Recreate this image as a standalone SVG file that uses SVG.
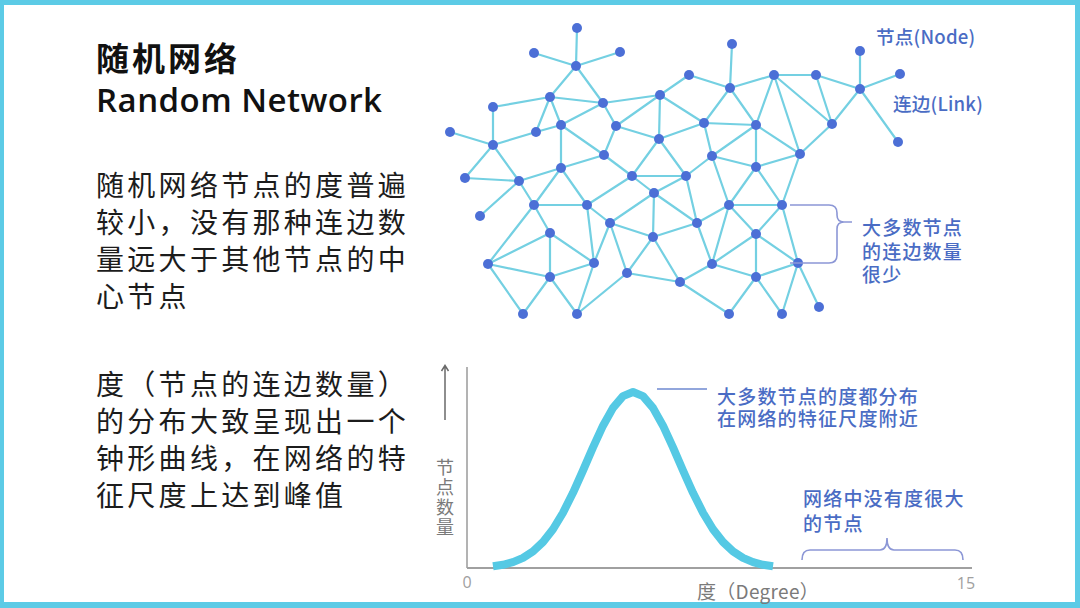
<svg xmlns="http://www.w3.org/2000/svg" width="1080" height="608" viewBox="0 0 1080 608">
<style>
.e{stroke:#74d0e2;stroke-width:2.2;stroke-linecap:round}
.n{fill:#4c6fd6}
.cjk{font-family:"Noto Sans CJK SC","Noto Sans",sans-serif}
.body{font-size:28px;fill:#1c1c1c;letter-spacing:3.3px}
.blue{font-size:19px;fill:#4a6cc4;letter-spacing:1.2px;font-weight:500}
.gray{fill:#7a7a7a}
.brace{fill:none;stroke:#8c97d6;stroke-width:1.6}
</style>
<rect width="1080" height="608" fill="#ffffff"/>
<path d="M0,0H1080V608H0Z M4,5V602H1075V5Z" fill="#5ccbe6" fill-rule="evenodd"/>

<g id="title">
<text x="96" y="71" class="cjk" font-size="33" font-weight="700" letter-spacing="3" fill="#111">随机网络</text>
<text x="96" y="112" font-family="'Open Sans','Noto Sans',sans-serif" font-size="33" font-weight="600" fill="#111" textLength="286" lengthAdjust="spacing">Random Network</text>
</g>

<g id="para1" class="cjk body">
<text x="96" y="196">随机网络节点的度普遍</text>
<text x="96" y="233">较小，没有那种连边数</text>
<text x="96" y="270">量远大于其他节点的中</text>
<text x="96" y="307">心节点</text>
</g>

<g id="para2" class="cjk body">
<text x="96" y="395">度（节点的连边数量）</text>
<text x="96" y="432">的分布大致呈现出一个</text>
<text x="96" y="469">钟形曲线，在网络的特</text>
<text x="96" y="506">征尺度上达到峰值</text>
</g>

<g id="connectors">
<line class="e" x1="577" y1="28" x2="576" y2="66"/>
<line class="e" x1="534" y1="53" x2="576" y2="66"/>
<line class="e" x1="620" y1="52" x2="576" y2="66"/>
<line class="e" x1="576" y1="66" x2="550" y2="97"/>
<line class="e" x1="576" y1="66" x2="603" y2="103"/>
<line class="e" x1="550" y1="97" x2="493" y2="107"/>
<line class="e" x1="550" y1="97" x2="603" y2="103"/>
<line class="e" x1="550" y1="97" x2="536" y2="132"/>
<line class="e" x1="550" y1="97" x2="561" y2="125"/>
<line class="e" x1="603" y1="103" x2="561" y2="125"/>
<line class="e" x1="603" y1="103" x2="616" y2="126"/>
<line class="e" x1="603" y1="103" x2="660" y2="95"/>
<line class="e" x1="660" y1="95" x2="689" y2="75"/>
<line class="e" x1="689" y1="75" x2="730" y2="88"/>
<line class="e" x1="660" y1="95" x2="616" y2="126"/>
<line class="e" x1="660" y1="95" x2="659" y2="139"/>
<line class="e" x1="660" y1="95" x2="704" y2="123"/>
<line class="e" x1="616" y1="126" x2="659" y2="139"/>
<line class="e" x1="616" y1="126" x2="604" y2="155"/>
<line class="e" x1="493" y1="107" x2="493" y2="145"/>
<line class="e" x1="450" y1="132" x2="493" y2="145"/>
<line class="e" x1="536" y1="132" x2="493" y2="145"/>
<line class="e" x1="536" y1="132" x2="561" y2="125"/>
<line class="e" x1="561" y1="125" x2="561" y2="168"/>
<line class="e" x1="561" y1="125" x2="604" y2="155"/>
<line class="e" x1="561" y1="168" x2="604" y2="155"/>
<line class="e" x1="659" y1="139" x2="704" y2="123"/>
<line class="e" x1="704" y1="123" x2="712" y2="156"/>
<line class="e" x1="704" y1="123" x2="730" y2="88"/>
<line class="e" x1="704" y1="123" x2="756" y2="125"/>
<line class="e" x1="732" y1="44" x2="730" y2="88"/>
<line class="e" x1="730" y1="88" x2="774" y2="75"/>
<line class="e" x1="730" y1="88" x2="756" y2="125"/>
<line class="e" x1="774" y1="75" x2="816" y2="75"/>
<line class="e" x1="774" y1="75" x2="756" y2="125"/>
<line class="e" x1="774" y1="75" x2="800" y2="154"/>
<line class="e" x1="774" y1="75" x2="832" y2="124"/>
<line class="e" x1="816" y1="75" x2="832" y2="124"/>
<line class="e" x1="816" y1="75" x2="860" y2="89"/>
<line class="e" x1="860" y1="51" x2="860" y2="89"/>
<line class="e" x1="900" y1="74" x2="860" y2="89"/>
<line class="e" x1="860" y1="89" x2="898" y2="142"/>
<line class="e" x1="860" y1="89" x2="832" y2="124"/>
<line class="e" x1="832" y1="124" x2="800" y2="154"/>
<line class="e" x1="756" y1="125" x2="712" y2="156"/>
<line class="e" x1="756" y1="125" x2="800" y2="154"/>
<line class="e" x1="756" y1="125" x2="756" y2="167"/>
<line class="e" x1="800" y1="154" x2="756" y2="167"/>
<line class="e" x1="712" y1="156" x2="756" y2="167"/>
<line class="e" x1="659" y1="139" x2="632" y2="176"/>
<line class="e" x1="659" y1="139" x2="686" y2="176"/>
<line class="e" x1="604" y1="155" x2="632" y2="176"/>
<line class="e" x1="632" y1="176" x2="686" y2="176"/>
<line class="e" x1="632" y1="176" x2="654" y2="193"/>
<line class="e" x1="686" y1="176" x2="654" y2="193"/>
<line class="e" x1="686" y1="176" x2="712" y2="156"/>
<line class="e" x1="686" y1="176" x2="697" y2="223"/>
<line class="e" x1="493" y1="145" x2="465" y2="178"/>
<line class="e" x1="493" y1="145" x2="519" y2="181"/>
<line class="e" x1="465" y1="178" x2="519" y2="181"/>
<line class="e" x1="519" y1="181" x2="561" y2="168"/>
<line class="e" x1="519" y1="181" x2="480" y2="216"/>
<line class="e" x1="519" y1="181" x2="534" y2="205"/>
<line class="e" x1="561" y1="168" x2="534" y2="205"/>
<line class="e" x1="561" y1="168" x2="587" y2="205"/>
<line class="e" x1="534" y1="205" x2="587" y2="205"/>
<line class="e" x1="534" y1="205" x2="550" y2="233"/>
<line class="e" x1="534" y1="205" x2="488" y2="264"/>
<line class="e" x1="587" y1="205" x2="610" y2="223"/>
<line class="e" x1="587" y1="205" x2="594" y2="263"/>
<line class="e" x1="587" y1="205" x2="632" y2="176"/>
<line class="e" x1="654" y1="193" x2="610" y2="223"/>
<line class="e" x1="654" y1="193" x2="697" y2="223"/>
<line class="e" x1="654" y1="193" x2="653" y2="237"/>
<line class="e" x1="610" y1="223" x2="653" y2="237"/>
<line class="e" x1="610" y1="223" x2="594" y2="263"/>
<line class="e" x1="610" y1="223" x2="627" y2="273"/>
<line class="e" x1="653" y1="237" x2="697" y2="223"/>
<line class="e" x1="653" y1="237" x2="627" y2="273"/>
<line class="e" x1="653" y1="237" x2="680" y2="282"/>
<line class="e" x1="550" y1="233" x2="488" y2="264"/>
<line class="e" x1="550" y1="233" x2="550" y2="277"/>
<line class="e" x1="550" y1="233" x2="594" y2="263"/>
<line class="e" x1="488" y1="264" x2="550" y2="277"/>
<line class="e" x1="488" y1="264" x2="523" y2="314"/>
<line class="e" x1="550" y1="277" x2="523" y2="314"/>
<line class="e" x1="550" y1="277" x2="577" y2="314"/>
<line class="e" x1="550" y1="277" x2="594" y2="263"/>
<line class="e" x1="594" y1="263" x2="577" y2="314"/>
<line class="e" x1="577" y1="314" x2="627" y2="273"/>
<line class="e" x1="627" y1="273" x2="680" y2="282"/>
<line class="e" x1="680" y1="282" x2="712" y2="264"/>
<line class="e" x1="680" y1="282" x2="729" y2="314"/>
<line class="e" x1="697" y1="223" x2="712" y2="264"/>
<line class="e" x1="697" y1="223" x2="729" y2="205"/>
<line class="e" x1="712" y1="156" x2="729" y2="205"/>
<line class="e" x1="756" y1="167" x2="729" y2="205"/>
<line class="e" x1="756" y1="167" x2="782" y2="205"/>
<line class="e" x1="800" y1="154" x2="782" y2="205"/>
<line class="e" x1="729" y1="205" x2="782" y2="205"/>
<line class="e" x1="729" y1="205" x2="756" y2="234"/>
<line class="e" x1="729" y1="205" x2="712" y2="264"/>
<line class="e" x1="782" y1="205" x2="756" y2="234"/>
<line class="e" x1="782" y1="205" x2="798" y2="263"/>
<line class="e" x1="756" y1="234" x2="712" y2="264"/>
<line class="e" x1="756" y1="234" x2="756" y2="277"/>
<line class="e" x1="756" y1="234" x2="798" y2="263"/>
<line class="e" x1="712" y1="264" x2="756" y2="277"/>
<line class="e" x1="756" y1="277" x2="798" y2="263"/>
<line class="e" x1="756" y1="277" x2="729" y2="314"/>
<line class="e" x1="756" y1="277" x2="782" y2="314"/>
<line class="e" x1="798" y1="263" x2="782" y2="314"/>
<line class="e" x1="798" y1="263" x2="819" y2="307"/>
</g>

<g id="nodes" class="n">
<g id="n1"><circle cx="577" cy="28" r="5"/></g>
<g id="n2"><circle cx="534" cy="53" r="5"/></g>
<g id="n3"><circle cx="620" cy="52" r="5"/></g>
<g id="n4"><circle cx="576" cy="66" r="5"/></g>
<g id="n5"><circle cx="689" cy="75" r="5"/></g>
<g id="n6"><circle cx="550" cy="97" r="5"/></g>
<g id="n7"><circle cx="603" cy="103" r="5"/></g>
<g id="n8"><circle cx="660" cy="95" r="5"/></g>
<g id="n9"><circle cx="493" cy="107" r="5"/></g>
<g id="n10"><circle cx="450" cy="132" r="5"/></g>
<g id="n11"><circle cx="536" cy="132" r="5"/></g>
<g id="n12"><circle cx="561" cy="125" r="5"/></g>
<g id="n13"><circle cx="616" cy="126" r="5"/></g>
<g id="n14"><circle cx="659" cy="139" r="5"/></g>
<g id="n15"><circle cx="704" cy="123" r="5"/></g>
<g id="n16"><circle cx="493" cy="145" r="5"/></g>
<g id="n17"><circle cx="604" cy="155" r="5"/></g>
<g id="n18"><circle cx="712" cy="156" r="5"/></g>
<g id="n19"><circle cx="561" cy="168" r="5"/></g>
<g id="n20"><circle cx="732" cy="44" r="5"/></g>
<g id="n21"><circle cx="730" cy="88" r="5"/></g>
<g id="n22"><circle cx="774" cy="75" r="5"/></g>
<g id="n23"><circle cx="816" cy="75" r="5"/></g>
<g id="n24"><circle cx="860" cy="51" r="5"/></g>
<g id="n25"><circle cx="900" cy="74" r="5"/></g>
<g id="n26"><circle cx="860" cy="89" r="5"/></g>
<g id="n27"><circle cx="898" cy="142" r="5"/></g>
<g id="n28"><circle cx="756" cy="125" r="5"/></g>
<g id="n29"><circle cx="832" cy="124" r="5"/></g>
<g id="n30"><circle cx="800" cy="154" r="5"/></g>
<g id="n31"><circle cx="756" cy="167" r="5"/></g>
<g id="n32"><circle cx="465" cy="178" r="5"/></g>
<g id="n33"><circle cx="519" cy="181" r="5"/></g>
<g id="n34"><circle cx="632" cy="176" r="5"/></g>
<g id="n35"><circle cx="686" cy="176" r="5"/></g>
<g id="n36"><circle cx="654" cy="193" r="5"/></g>
<g id="n37"><circle cx="480" cy="216" r="5"/></g>
<g id="n38"><circle cx="534" cy="205" r="5"/></g>
<g id="n39"><circle cx="587" cy="205" r="5"/></g>
<g id="n40"><circle cx="610" cy="223" r="5"/></g>
<g id="n41"><circle cx="697" cy="223" r="5"/></g>
<g id="n42"><circle cx="550" cy="233" r="5"/></g>
<g id="n43"><circle cx="653" cy="237" r="5"/></g>
<g id="n44"><circle cx="488" cy="264" r="5"/></g>
<g id="n45"><circle cx="594" cy="263" r="5"/></g>
<g id="n46"><circle cx="712" cy="264" r="5"/></g>
<g id="n47"><circle cx="550" cy="277" r="5"/></g>
<g id="n48"><circle cx="627" cy="273" r="5"/></g>
<g id="n49"><circle cx="680" cy="282" r="5"/></g>
<g id="n50"><circle cx="523" cy="314" r="5"/></g>
<g id="n51"><circle cx="577" cy="314" r="5"/></g>
<g id="n52"><circle cx="729" cy="205" r="5"/></g>
<g id="n53"><circle cx="782" cy="205" r="5"/></g>
<g id="n54"><circle cx="756" cy="234" r="5"/></g>
<g id="n55"><circle cx="798" cy="263" r="5"/></g>
<g id="n56"><circle cx="756" cy="277" r="5"/></g>
<g id="n57"><circle cx="729" cy="314" r="5"/></g>
<g id="n58"><circle cx="782" cy="314" r="5"/></g>
<g id="n59"><circle cx="819" cy="307" r="5"/></g>
</g>

<g id="label-node"><text x="876" y="44" class="cjk blue" style="font-size:18.6px;letter-spacing:0.2px">节点(Node)</text></g>
<g id="label-link"><text x="893" y="111" class="cjk blue" style="font-size:18.6px;letter-spacing:0.2px">连边(Link)</text></g>

<g id="brace-network">
<path class="brace" d="M790,205H829Q837,205 837,213V215Q837,222 844,222H852M844,222Q837,222 837,229V255Q837,263 829,263H790"/>
<text class="cjk blue" x="862" y="235">大多数节点</text>
<text class="cjk blue" x="862" y="259">的连边数量</text>
<text class="cjk blue" x="862" y="282">很少</text>
</g>

<g id="chart">
<line x1="467" y1="367" x2="467" y2="568" stroke="#a0a0a0" stroke-width="1.6"/>
<line x1="467" y1="568" x2="972" y2="568" stroke="#a0a0a0" stroke-width="1.8"/>
<path d="M445,420V366M441.5,371L445,365.5L448.5,371" fill="none" stroke="#6a6a6a" stroke-width="1.5"/>
<text class="cjk gray" x="445" y="458" font-size="18" letter-spacing="2" style="writing-mode:vertical-rl">节点数量</text>
<text x="467" y="588" font-family="'Open Sans','Noto Sans',sans-serif" font-size="16" fill="#a0a0a0" text-anchor="middle">0</text>
<text x="966" y="589" font-family="'Open Sans','Noto Sans',sans-serif" font-size="16" fill="#a0a0a0" text-anchor="middle">15</text>
<text x="697" y="599" class="cjk gray" font-size="19" letter-spacing="0.3">度（Degree）</text>
</g>

<g id="bell-curve">
<polyline fill="none" stroke="#55c9e4" stroke-width="8" stroke-linejoin="round" points="493,566.3 503,564.8 513,562.1 523,557.9 533,551.4 543,542 553,529.2 563,512.7 573,492.8 583,470.5 593,447.4 603,425.7 613,407.9 623,396.1 633,392 643,396.1 653,407.9 663,425.7 673,447.4 683,470.5 693,492.8 703,512.7 713,529.2 723,542 733,551.4 743,557.9 753,562.1 763,564.8 773,566.3"/>
</g>

<g id="peak-label">
<line x1="657" y1="389" x2="707" y2="389" stroke="#6e88d0" stroke-width="1.6"/>
<text class="cjk blue" x="717" y="404">大多数节点的度都分布</text>
<text class="cjk blue" x="717" y="426">在网络的特征尺度附近</text>
</g>

<g id="tail-label">
<text class="cjk blue" x="803" y="506" letter-spacing="1.4">网络中没有度很大</text>
<text class="cjk blue" x="803" y="531" letter-spacing="1.4">的节点</text>
<path class="brace" d="M802,560Q802,550 810,550H880Q887,550 887,538Q887,550 894,550H955Q963,550 963,560"/>
</g>
</svg>
